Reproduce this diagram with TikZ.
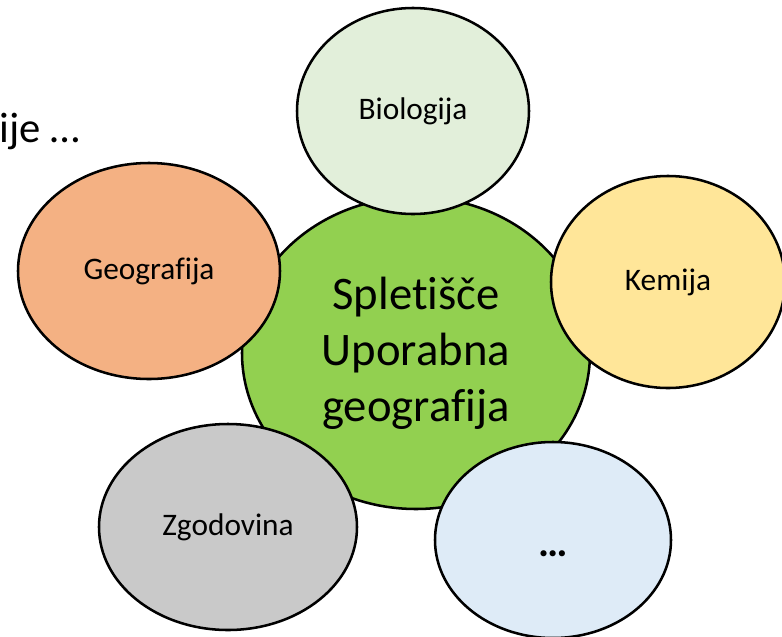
\documentclass[tikz,border=0pt]{standalone}
\usepackage{fontspec}
\setmainfont[Ligatures=NoCommon]{Carlito}
\usepackage{tikz}
\usetikzlibrary{shapes.geometric}
\tikzset{every picture/.style={line width=0.75pt}}

\begin{document}
\begin{tikzpicture}[x=0.75pt,y=0.75pt,yscale=-1,xscale=1,
  bubble/.style={ellipse, draw, line width=1.9pt, inner sep=0pt, font=\fontsize{23.5}{28}\selectfont}]
\clip (0,0) rectangle (782,636);

%Shape: Ellipse [centre]
\node (hub) [ellipse, draw, line width=1.9pt, fill={rgb, 255:red, 146; green, 208; blue, 80 }, minimum width=261pt, minimum height=234pt, align=center, font=\fontsize{35}{42}\selectfont] at (416,353) {Spletišče\\Uporabna\\geografija};

%Shape: Ellipse [top]
\node (bio) [bubble, fill={rgb, 255:red, 226; green, 239; blue, 218 }, minimum width=174pt, minimum height=154.5pt] at (413,111) {Biologija};
%Shape: Ellipse [left]
\node (geo) [bubble, fill={rgb, 255:red, 244; green, 177; blue, 131 }, minimum width=196.5pt, minimum height=162pt] at (149,271) {Geografija};
%Shape: Ellipse [right]
\node (kem) [bubble, fill={rgb, 255:red, 255; green, 230; blue, 153 }, minimum width=175.5pt, minimum height=159pt] at (668,282) {Kemija};
%Shape: Ellipse [bottom left]
\node (zgo) [bubble, fill={rgb, 255:red, 201; green, 201; blue, 201 }, minimum width=193.5pt, minimum height=154.5pt] at (228,527) {Zgodovina};
%Shape: Ellipse [bottom right]
\node (more) [bubble, fill={rgb, 255:red, 222; green, 235; blue, 247 }, minimum width=177pt, minimum height=147pt] at (553,540) {\raisebox{-12pt}[0pt][0pt]{\fontsize{31}{36}\selectfont\bfseries …}};

% Text Node
\node (cut) [anchor=base west, inner sep=0pt, font=\fontsize{32}{38}\selectfont] at (-1,142) {ije …};
\end{tikzpicture}
\end{document}
